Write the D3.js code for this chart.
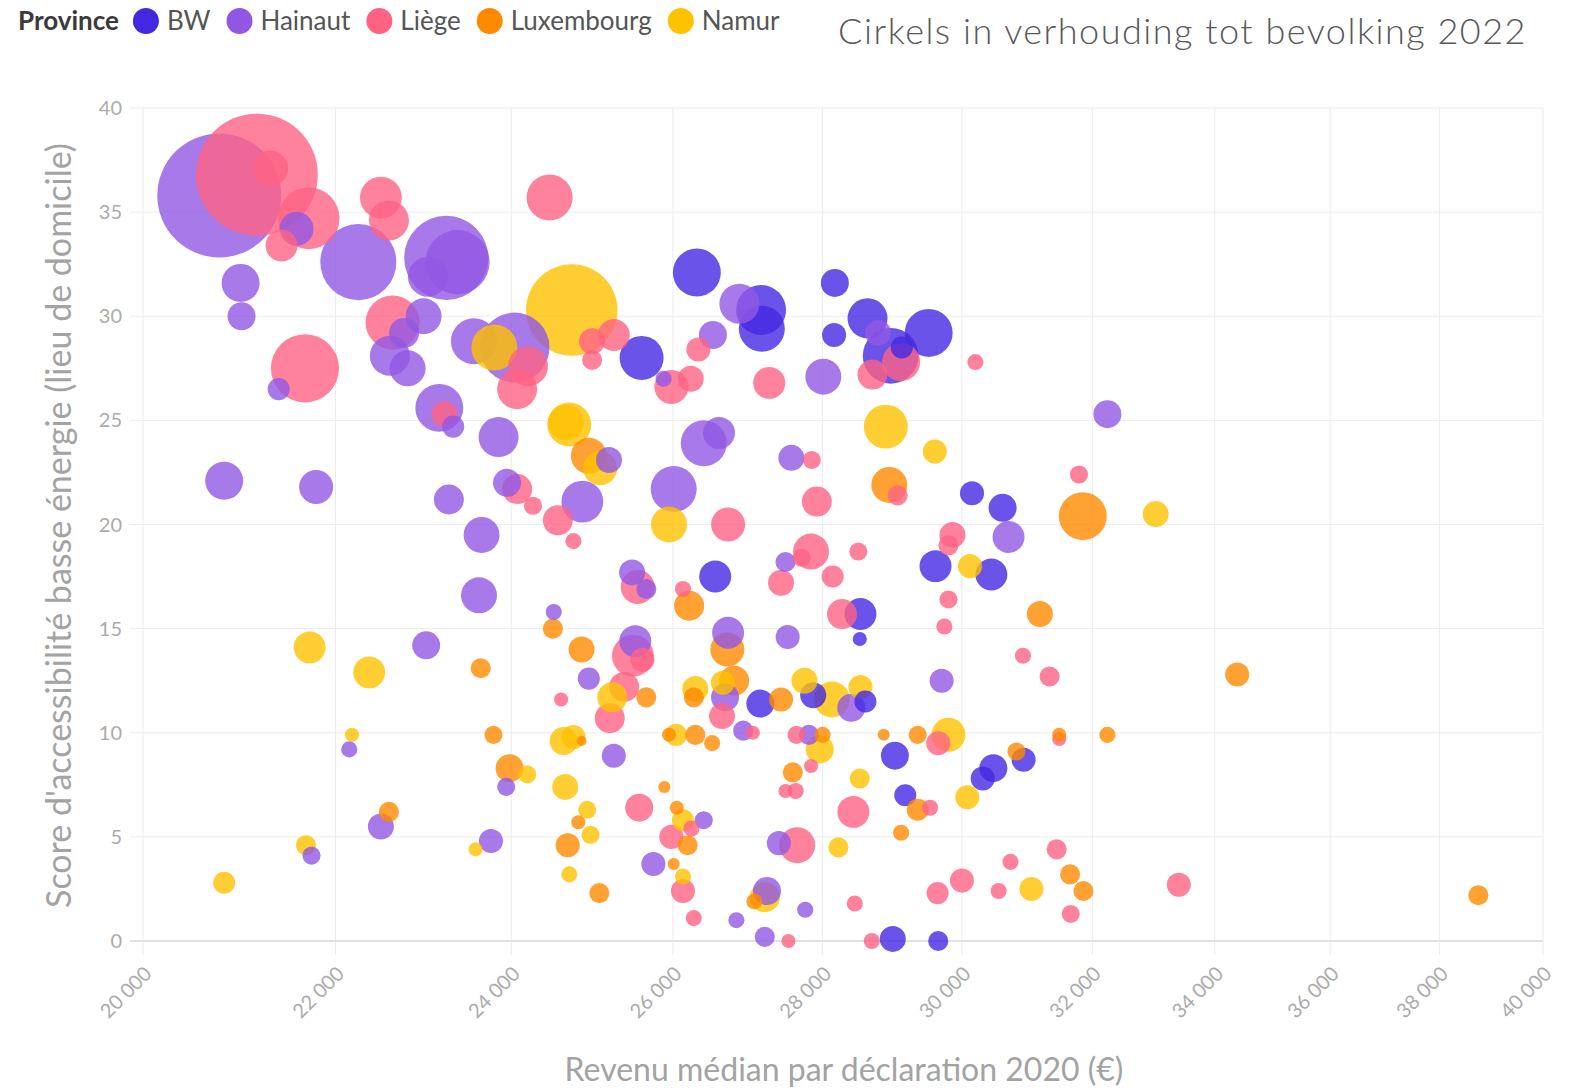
<!DOCTYPE html>
<html>
<head>
<meta charset="utf-8">
<script src="https://cdn.jsdelivr.net/npm/d3@7"></script>
<style>
  body { margin: 0; background: #fff; }
  svg { display: block; font-family: Lato, "Noto Sans", sans-serif; }
</style>
</head>
<body>
<div id="chart"></div>
<script>
const provinces = ["BW", "Hainaut", "Liège", "Luxembourg", "Namur"];
const colors = ["#4328e2", "#9157e3", "#ff6384", "#ff8a00", "#ffc200"];
const xTicks = [20000, 22000, 24000, 26000, 28000, 30000, 32000, 34000, 36000, 38000, 40000];
const yTicks = [0, 5, 10, 15, 20, 25, 30, 35, 40];

// [revenu médian, score, population]
const bw = [
  [26310,32.1,30200],[25600,28.0,25400],[27160,30.3,32800],[27170,29.4,27800],[28170,31.6,10300],
  [28160,29.1,7600],[28630,29.9,21000],[28960,28.1,41000],[29120,28.5,6400],[29510,29.2,30200],
  [30150,21.5,7600],[30610,20.8,10300],[26550,17.5,13400],[28530,15.7,13400],[28520,14.5,2600],
  [29610,18.0,13400],[30440,17.6,13400],[27150,11.4,10300],[27870,11.8,8900],[28600,11.5,6400],
  [29020,8.9,10300],[29170,7.0,6400],[30470,8.3,10300],[30310,7.8,7600],[30930,8.7,7600],
  [28990,0.1,8900],[29650,0.0,5300]
];
const hainaut = [
  [20770,35.8,202000],[21580,34.2,15200],[22250,32.6,76000],[23240,32.8,93000],[23370,32.6,54000],
  [23030,31.9,21000],[20990,31.6,19000],[21000,30.0,10300],[22980,30.0,17000],[22760,29.2,11800],
  [22600,28.1,21000],[22800,27.5,17000],[21390,26.5,6400],[23560,28.8,27800],[24040,28.5,64000],
  [23160,25.6,30200],[23320,24.7,6400],[23850,24.2,21000],[20820,22.1,19000],[21790,21.8,15200],
  [23270,21.2,11800],[23950,22.0,10300],[23650,19.5,17000],[23620,16.6,17000],[24510,15.8,3400],
  [23010,14.2,10300],[22150,9.2,3400],[23940,7.4,4300],[22500,5.5,8900],[21740,4.1,4300],
  [23760,4.8,7600],[25190,23.1,8900],[24860,21.1,23000],[25880,27.0,3400],[26520,29.1,10300],
  [26870,30.6,21000],[28010,27.1,17000],[28780,29.2,8900],[32240,25.3,10300],[26400,23.9,27800],
  [26600,24.4,13400],[27570,23.2,8900],[26010,21.7,27800],[30700,19.4,13400],[25480,17.7,8900],
  [25660,16.9,5300],[27490,18.2,5300],[25520,14.4,13400],[24940,12.6,6400],[26720,14.8,13400],
  [26680,11.7,10300],[27520,14.6,7600],[28400,11.2,10300],[26920,10.1,5300],[25250,8.9,7600],
  [27810,9.9,5300],[29700,12.5,7600],[26400,5.8,4300],[25750,3.7,7600],[26830,1.0,3400],
  [27240,2.4,10300],[27210,0.2,5300],[27400,4.7,7600],[27760,1.5,3400]
];
const liege = [
  [21160,36.8,195000],[21300,37.1,17000],[21710,34.7,50000],[21420,33.4,13400],[22500,35.7,23000],
  [22590,34.6,21000],[22630,29.7,38300],[21670,27.5,61000],[23220,25.3,8900],[24200,27.6,21000],
  [24070,26.5,21000],[24070,21.7,11800],[24260,20.9,4300],[24560,20.2,11800],[24750,19.2,3400],
  [24460,35.7,27800],[25250,29.1,13400],[24980,28.8,8900],[24980,27.9,5300],[25980,26.6,15200],
  [26230,27.0,8900],[26330,28.4,7600],[27270,26.8,13400],[29110,27.8,19000],[28700,27.2,11800],
  [30200,27.8,3400],[29060,21.4,5300],[31790,22.4,4300],[27850,23.1,4300],[27920,21.1,11800],
  [26720,20.0,15200],[25550,17.0,15200],[26130,16.9,3400],[27840,18.7,17000],[27710,18.4,4300],
  [27430,17.2,8900],[28140,17.5,6400],[28500,18.7,4300],[28270,15.7,11800],[29860,19.5,8900],
  [29800,19.0,5300],[29800,16.4,4300],[29740,15.1,3400],[30920,13.7,3400],[31330,12.7,5300],
  [25490,13.7,23000],[25610,13.5,7600],[25380,12.2,11800],[25200,10.7,11800],[24600,11.6,2600],
  [26640,10.8,8900],[27050,10.0,2600],[27640,9.9,4300],[27840,8.4,2600],[27490,7.2,2600],
  [27630,7.2,3400],[25570,6.4,10300],[26240,5.4,3400],[25980,5.0,7600],[26130,2.4,7600],
  [26270,1.1,3400],[27530,0.0,2600],[27650,4.6,17000],[28450,1.8,3400],[28430,6.2,13400],
  [29650,9.5,7600],[29530,6.4,3400],[31480,9.7,2600],[31440,4.4,5300],[30730,3.8,3400],
  [30550,2.4,3400],[31660,1.3,4300],[30000,2.9,7600],[29640,2.3,6400],[28690,0.0,3400],
  [33400,2.7,7600]
];
const luxembourg = [
  [31850,20.4,30200],[28940,21.9,17000],[24940,23.3,17000],[24500,15.0,5300],[23640,13.1,5300],
  [23790,9.9,4300],[23980,8.3,10300],[22590,6.2,5300],[26210,16.1,11800],[24850,14.0,8900],
  [25660,11.7,5300],[26710,14.0,15200],[26800,12.5,11800],[26270,11.7,5300],[27430,11.6,7600],
  [24850,9.6,1300],[25950,9.9,2600],[26290,9.9,5300],[26510,9.5,3400],[28000,9.9,3400],
  [27590,8.1,5300],[25890,7.4,1900],[24810,5.7,2600],[24680,4.6,7600],[25070,2.3,5300],
  [26050,6.4,2600],[26190,4.6,5300],[26010,3.7,1900],[27070,1.9,3400],[28860,9.9,1900],
  [29350,9.9,4300],[29350,6.3,6400],[29110,5.2,3400],[31180,15.7,8900],[30820,9.1,4300],
  [31480,9.9,2600],[32240,9.9,3400],[31650,3.2,5300],[31860,2.4,5300],[34380,12.8,7600],
  [38740,2.2,5300]
];
const namur = [
  [24730,30.3,110000],[23800,28.5,27800],[24700,24.8,25400],[24660,24.9,17000],[25080,22.7,15200],
  [28890,24.7,25400],[29600,23.5,7600],[33020,20.5,8900],[25950,20.0,17000],[21720,14.1,13400],
  [22370,12.9,13400],[22180,9.9,2600],[24190,8.0,4300],[21680,4.6,5300],[23580,4.4,2600],
  [20820,2.8,6400],[25230,11.7,11800],[26650,12.4,7600],[26290,12.1,8900],[27750,12.5,8900],
  [28130,11.6,17000],[28530,12.2,7600],[24630,9.6,10300],[24750,9.8,7600],[26040,9.9,6400],
  [27960,9.2,10300],[28520,7.8,5300],[24650,7.4,8900],[24920,6.3,4300],[24960,5.1,4300],
  [24700,3.2,3400],[26130,5.8,6400],[26130,3.1,3400],[27210,2.1,11800],[28220,4.5,5300],
  [30120,18.0,7600],[29800,9.9,15200],[30080,6.9,7600],[31050,2.5,7600]
];

const series = [bw, hainaut, liege, luxembourg, namur];
let points = [];
series.forEach(function (s, i) {
  s.forEach(function (d) {
    points.push({ prov: i, income: d[0], score: d[1], pop: d[2] });
  });
});
// grote cirkels eerst, kleine erbovenop
points.sort(function (a, b) { return b.pop - a.pop; });

let width = 1573, height = 1092;
let svg = d3.select("#chart").append("svg").attr("width", width).attr("height", height);

let x = d3.scaleLog().domain([20000, 40000]).range([143, 1543]);
let y = d3.scaleLinear().domain([0, 40]).range([941, 108]);
let r = d3.scaleSqrt().domain([0, 202000]).range([0, 62]);
let color = d3.scaleOrdinal().domain(d3.range(provinces.length)).range(colors);
let fmt = function (v) { return d3.format(",")(v).replace(",", "\u202f"); };

// grid
let grid = svg.append("g");
grid.selectAll("line.v").data(xTicks).join("line")
  .attr("x1", d => x(d)).attr("x2", d => x(d))
  .attr("y1", y(40)).attr("y2", y(0) + 14)
  .attr("stroke", "#ececec").attr("stroke-width", 1);
grid.selectAll("line.h").data(yTicks).join("line")
  .attr("x1", 130).attr("x2", x(40000))
  .attr("y1", d => y(d)).attr("y2", d => y(d))
  .attr("stroke", d => d === 0 ? "#e2e2e2" : "#ececec")
  .attr("stroke-width", d => d === 0 ? 2 : 1);

// tick labels
svg.append("g").selectAll("text").data(yTicks).join("text")
  .attr("x", 122).attr("y", d => y(d)).attr("dy", "0.35em")
  .attr("text-anchor", "end").attr("font-size", 20).attr("fill", "#ababab")
  .text(d => d);

svg.append("g").selectAll("text").data(xTicks).join("text")
  .attr("transform", d => "translate(" + (x(d) + 10) + ",975) rotate(-45)")
  .attr("text-anchor", "end").attr("font-size", 20).attr("fill", "#ababab")
  .text(d => fmt(d));

// axis titles
svg.append("text")
  .attr("transform", "translate(71," + (y(20) + 1) + ") rotate(-90)")
  .attr("text-anchor", "middle").attr("font-size", 34).attr("fill", "#a3a3a3")
  .text("Score d'accessibilité basse énergie (lieu de domicile)");
svg.append("text")
  .attr("x", 844).attr("y", 1081)
  .attr("text-anchor", "middle").attr("font-size", 32).attr("fill", "#a3a3a3")
  .text("Revenu médian par déclaration 2020 (€)");

// bubbles
svg.append("g").selectAll("circle").data(points).join("circle")
  .attr("cx", d => x(d.income))
  .attr("cy", d => y(d.score))
  .attr("r", d => r(d.pop))
  .attr("fill", d => color(d.prov))
  .attr("fill-opacity", 0.8);

// legend
let legend = svg.append("g");
let lx = 18;
let head = legend.append("text").attr("x", lx).attr("y", 30)
  .attr("font-size", 26).attr("font-weight", "bold").attr("fill", "#3a3a3a")
  .text("Province");
lx += head.node().getComputedTextLength() + 14;
provinces.forEach(function (p, i) {
  legend.append("circle").attr("cx", lx + 13).attr("cy", 21).attr("r", 13).attr("fill", colors[i]);
  lx += 34;
  let t = legend.append("text").attr("x", lx).attr("y", 30)
    .attr("font-size", 26).attr("fill", "#555").text(p);
  lx += t.node().getComputedTextLength() + 16;
});

// title
svg.append("text")
  .attr("x", 1527).attr("y", 44)
  .attr("text-anchor", "end").attr("font-size", 36).attr("font-weight", 300)
  .attr("letter-spacing", 1.5).attr("fill", "#585858")
  .text("Cirkels in verhouding tot bevolking 2022");
</script>
</body>
</html>
